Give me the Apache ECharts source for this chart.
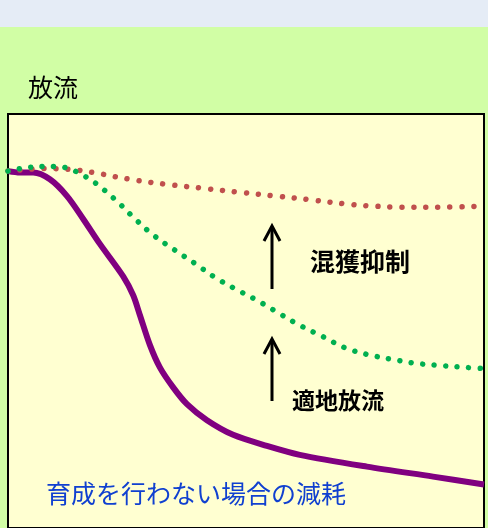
<!DOCTYPE html>
<html>
<head>
<meta charset="utf-8">
<script src="https://cdn.jsdelivr.net/npm/echarts@6/dist/echarts.min.js"></script>
<style>
  html, body { margin: 0; padding: 0; background: #D1FEA5; }
  #chart { width: 488px; height: 528px; }
</style>
</head>
<body>
<div id="chart"></div>
<script>
// x: 時間 (0-100), y: 残存率 (%)
var noRelease = [[0,100],[2.5,99.6],[5.3,99.6],[8.8,97.7],[12.4,93.0],[15.8,86.6],[19.3,79.6],[24.2,70.5],
  [26.3,65.2],[27.7,59.7],[29.8,51.3],[31.9,45.0],[34.7,39.4],[37.6,34.7],[41.8,30.2],[47.3,26.1],
  [54.4,23.0],[61.3,20.5],[75.4,17.2],[89.3,14.4],[100,12.2]];
var goodRelease = [[0,100],[2.5,100.7],[7.6,101.3],[10.1,101.3],[12.8,100.7],[15.1,99.3],[17.2,97.7],
  [19.3,95.7],[23.1,91.3],[26.7,86.6],[30.7,81.9],[34.9,78.0],[39.3,74.1],[43.5,70.2],[47.9,66.9],
  [52.3,63.8],[56.9,60.2],[61.6,56.6],[66.2,53.6],[70.8,50.5],[75.6,48.6],[80.9,47.2],[85.9,46.1],
  [91.2,45.5],[96.0,45.0],[100,44.7]];
var bycatchCut = [[0,100],[7.6,100.7],[12.8,100.5],[17.9,99.6],[25.6,97.7],[33.2,96.3],[40.8,95.2],
  [48.5,94.1],[56.3,93.0],[63.9,91.9],[71.6,90.7],[76.7,90.2],[82.4,89.9],[90.8,89.9],[100,90.2]];

var jp = '"Noto Sans CJK JP", "Noto Sans CJK SC", sans-serif';

var myChart = echarts.init(document.getElementById('chart'));

function arrow(x, yTop, yBottom) {
  return {
    type: 'group',
    children: [
      { type: 'line', shape: { x1: x, y1: yBottom, x2: x, y2: yTop + 1 },
        style: { stroke: '#000', lineWidth: 3 } },
      { type: 'polyline', shape: { points: [[x - 8, yTop + 15], [x, yTop], [x + 8, yTop + 15]] },
        style: { stroke: '#000', lineWidth: 3, fill: null } }
    ]
  };
}

var option = {
  backgroundColor: '#D1FEA5',
  animation: false,
  grid: {
    left: 8, right: 4, top: 114, bottom: -4,
    show: true,
    backgroundColor: '#FFFFD1',
    borderColor: '#000',
    borderWidth: 2
  },
  xAxis: { type: 'value', min: 0, max: 100, show: false },
  yAxis: { type: 'value', min: 0, max: 116, show: false },
  graphic: [
    { type: 'rect', shape: { x: 0, y: 0, width: 488, height: 27 }, style: { fill: '#E5ECF6' }, z: 10 },
    { type: 'text', left: 28, top: 75, style: { text: '放流', font: '25px ' + jp, fill: '#000' }, z: 10 },
    arrow(272, 226, 289),
    arrow(272, 339, 401),
    { type: 'text', left: 310, top: 249, style: { text: '混獲抑制', font: 'bold 25px ' + jp, fill: '#000' }, z: 10 },
    { type: 'text', left: 292, top: 389, style: { text: '適地放流', font: 'bold 23px ' + jp, fill: '#000' }, z: 10 },
    { type: 'text', left: 46, top: 481, style: { text: '育成を行わない場合の減耗', font: '25px ' + jp, fill: '#1040D0' }, z: 10 }
  ],
  series: [
    {
      name: '育成を行わない場合の減耗',
      type: 'line',
      data: noRelease,
      smooth: 0.3,
      symbol: 'none',
      lineStyle: { color: '#800080', width: 6 }
    },
    {
      name: '混獲抑制',
      type: 'line',
      data: bycatchCut,
      smooth: 0.4,
      symbol: 'none',
      lineStyle: { color: '#C0504D', width: 5.5, type: [0.01, 12], cap: 'round' }
    },
    {
      name: '適地放流',
      type: 'line',
      data: goodRelease,
      smooth: 0.4,
      symbol: 'none',
      lineStyle: { color: '#00B050', width: 5.5, type: [0.01, 11.5], cap: 'round' }
    }
  ]
};

option && myChart.setOption(option);
</script>
</body>
</html>
